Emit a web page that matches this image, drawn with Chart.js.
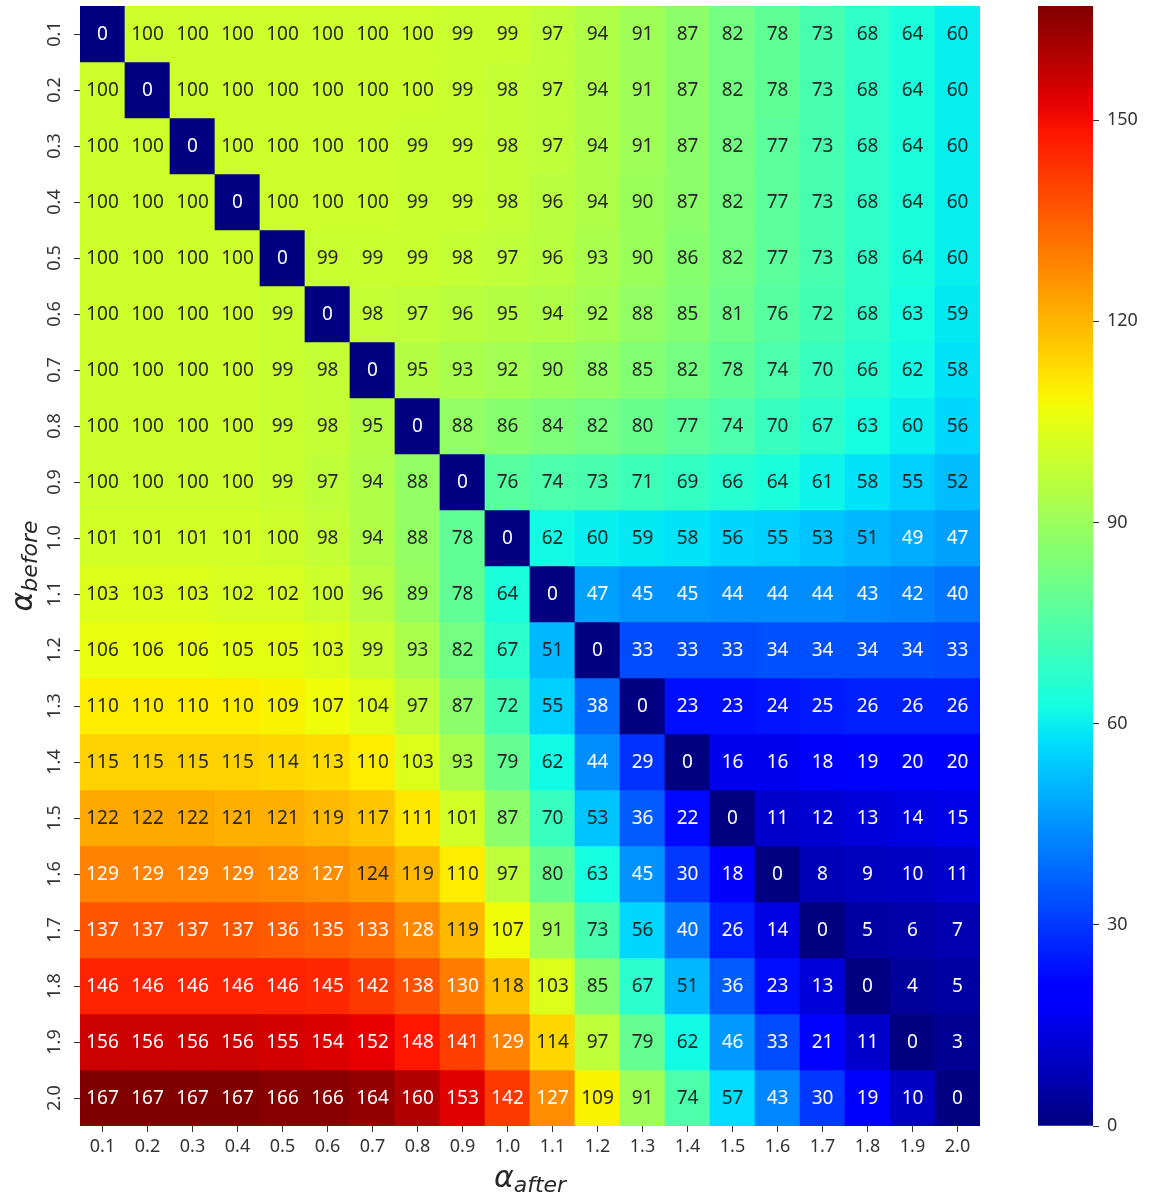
<!DOCTYPE html>
<html>
<head>
<meta charset="utf-8">
<script src="https://cdn.jsdelivr.net/npm/chart.js@4.4.1/dist/chart.umd.min.js"></script>
<style>
  body{margin:0;background:#fff;}
  #wrap{position:relative;width:1155px;height:1200px;}
  #heat{position:absolute;left:0;top:0;}
  #cbarBox{position:absolute;left:1000px;top:0;width:155px;height:1200px;}
</style>
</head>
<body>
<div id="wrap">
  <div style="position:absolute;left:0;top:0;width:1155px;height:1200px;"><canvas id="heat"></canvas></div>
  <div id="cbarBox"><canvas id="cbar"></canvas></div>
</div>
<script>
// DATA
const afterLabels = ['0.1','0.2','0.3','0.4','0.5','0.6','0.7','0.8','0.9','1.0','1.1','1.2','1.3','1.4','1.5','1.6','1.7','1.8','1.9','2.0'];
const beforeLabels = ['0.1','0.2','0.3','0.4','0.5','0.6','0.7','0.8','0.9','1.0','1.1','1.2','1.3','1.4','1.5','1.6','1.7','1.8','1.9','2.0'];
const values = [
  [0,100,100,100,100,100,100,100,99,99,97,94,91,87,82,78,73,68,64,60],
  [100,0,100,100,100,100,100,100,99,98,97,94,91,87,82,78,73,68,64,60],
  [100,100,0,100,100,100,100,99,99,98,97,94,91,87,82,77,73,68,64,60],
  [100,100,100,0,100,100,100,99,99,98,96,94,90,87,82,77,73,68,64,60],
  [100,100,100,100,0,99,99,99,98,97,96,93,90,86,82,77,73,68,64,60],
  [100,100,100,100,99,0,98,97,96,95,94,92,88,85,81,76,72,68,63,59],
  [100,100,100,100,99,98,0,95,93,92,90,88,85,82,78,74,70,66,62,58],
  [100,100,100,100,99,98,95,0,88,86,84,82,80,77,74,70,67,63,60,56],
  [100,100,100,100,99,97,94,88,0,76,74,73,71,69,66,64,61,58,55,52],
  [101,101,101,101,100,98,94,88,78,0,62,60,59,58,56,55,53,51,49,47],
  [103,103,103,102,102,100,96,89,78,64,0,47,45,45,44,44,44,43,42,40],
  [106,106,106,105,105,103,99,93,82,67,51,0,33,33,33,34,34,34,34,33],
  [110,110,110,110,109,107,104,97,87,72,55,38,0,23,23,24,25,26,26,26],
  [115,115,115,115,114,113,110,103,93,79,62,44,29,0,16,16,18,19,20,20],
  [122,122,122,121,121,119,117,111,101,87,70,53,36,22,0,11,12,13,14,15],
  [129,129,129,129,128,127,124,119,110,97,80,63,45,30,18,0,8,9,10,11],
  [137,137,137,137,136,135,133,128,119,107,91,73,56,40,26,14,0,5,6,7],
  [146,146,146,146,146,145,142,138,130,118,103,85,67,51,36,23,13,0,4,5],
  [156,156,156,156,155,154,152,148,141,129,114,97,79,62,46,33,21,11,0,3],
  [167,167,167,167,166,166,164,160,153,142,127,109,91,74,57,43,30,19,10,0]
];
const vmin = 0, vmax = 167;
const colorTicks = [0,30,60,90,120,150];

const FONT = '"Noto Sans", "DejaVu Sans", sans-serif';
const TICK_COLOR = '#333';

// jet colormap (matplotlib segment data)
function interp(pts, t){
  for(let i=1;i<pts.length;i++){
    if(t<=pts[i][0]){
      const [x0,y0]=pts[i-1], [x1,y1]=pts[i];
      return y0 + (y1-y0)*(t-x0)/(x1-x0);
    }
  }
  return pts[pts.length-1][1];
}
function jetRGB(t){
  t=Math.max(0,Math.min(1,t));
  return [
    interp([[0,0],[0.35,0],[0.66,1],[0.89,1],[1,0.5]],t),
    interp([[0,0],[0.125,0],[0.375,1],[0.64,1],[0.91,0],[1,0]],t),
    interp([[0,0.5],[0.11,1],[0.34,1],[0.65,0],[1,0]],t)
  ];
}
function rgbStr(c){ return 'rgb('+c.map(v=>Math.round(v*255)).join(',')+')'; }
function cellColor(v){ return rgbStr(jetRGB((v-vmin)/(vmax-vmin))); }
function textColor(v){
  const lin = jetRGB((v-vmin)/(vmax-vmin)).map(c=> c<=0.03928 ? c/12.92 : Math.pow((c+0.055)/1.055,2.4));
  const lum = 0.2126*lin[0]+0.7152*lin[1]+0.0722*lin[2];
  return lum > 0.408 ? '#262626' : '#ffffff';
}

// HEATMAP
const heatLabels = {
  id:'heatLabels',
  afterDatasetsDraw(chart){
    const ctx=chart.ctx;
    ctx.save();
    ctx.font='19px '+FONT;
    ctx.textAlign='center';
    ctx.textBaseline='middle';
    chart.data.datasets.forEach((ds,r)=>{
      chart.getDatasetMeta(r).data.forEach((el,c)=>{
        const v=values[r][c];
        ctx.fillStyle=textColor(v);
        ctx.fillText(String(v), el.x, (el.y+el.base)/2+1);
      });
    });
    ctx.restore();
  },
  afterDraw(chart){
    const ctx=chart.ctx, ys=chart.scales.y, area=chart.chartArea;
    ctx.save();
    // rotated row labels
    ctx.font='18px '+FONT;
    ctx.fillStyle=TICK_COLOR;
    ctx.textAlign='center';
    ctx.textBaseline='middle';
    beforeLabels.forEach((lab,i)=>{
      ctx.save();
      ctx.translate(55, ys.getPixelForValue(i));
      ctx.rotate(-Math.PI/2);
      ctx.fillText(lab,0,0);
      ctx.restore();
    });
    // x title  alpha_after
    ctx.fillStyle='#262626';
    ctx.textAlign='left';
    ctx.textBaseline='alphabetic';
    const cx=(area.left+area.right)/2;
    ctx.font='italic 30px "DejaVu Sans", sans-serif';
    const wa=ctx.measureText('α').width;
    ctx.font='italic 22px "DejaVu Sans", sans-serif';
    const wb=ctx.measureText('after').width;
    let x0=cx-(wa+wb)/2;
    ctx.font='italic 30px "DejaVu Sans", sans-serif';
    ctx.fillText('α',x0,1187);
    ctx.font='italic 22px "DejaVu Sans", sans-serif';
    ctx.fillText('after',x0+wa,1192);
    // y title  alpha_before
    const cy=(area.top+area.bottom)/2;
    ctx.save();
    ctx.translate(0,cy);
    ctx.rotate(-Math.PI/2);
    ctx.font='italic 30px "DejaVu Sans", sans-serif';
    const wa2=ctx.measureText('α').width;
    ctx.font='italic 22px "DejaVu Sans", sans-serif';
    const wb2=ctx.measureText('before').width;
    const s=-(wa2+wb2)/2;
    ctx.font='italic 30px "DejaVu Sans", sans-serif';
    ctx.fillText('α',s,32);
    ctx.font='italic 22px "DejaVu Sans", sans-serif';
    ctx.fillText('before',s+wa2,37);
    ctx.restore();
    ctx.restore();
  }
};

const heatChart = new Chart(document.getElementById('heat'),{
  type:'bar',
  data:{
    labels:afterLabels,
    datasets:values.map((row,r)=>({
      label:beforeLabels[r],
      data:row.map(()=>[r-0.5,r+0.5]),
      backgroundColor:row.map(cellColor),
      borderWidth:0,
      barPercentage:1,
      categoryPercentage:1,
      grouped:false
    }))
  },
  options:{
    responsive:true,
    maintainAspectRatio:false,
    animation:false,
    layout:{padding:{left:0,right:175,top:6,bottom:0}},
    plugins:{legend:{display:false},tooltip:{enabled:false}},
    scales:{
      x:{
        offset:true,
        grid:{display:true,drawOnChartArea:false,offset:false,tickLength:6,color:'#333'},
        border:{display:false},
        ticks:{color:TICK_COLOR,font:{size:18,family:FONT},padding:4,maxRotation:0,minRotation:0},
        afterFit(s){ s.height=74; s.paddingLeft=0; s.paddingRight=0; }
      },
      y:{
        type:'linear',
        reverse:true,
        min:-0.5,
        max:19.5,
        afterBuildTicks(s){ s.ticks=beforeLabels.map((_,i)=>({value:i})); },
        grid:{display:true,drawOnChartArea:false,tickLength:6,color:'#333'},
        border:{display:false},
        ticks:{color:'rgba(0,0,0,0)',callback:(v)=>beforeLabels[v]},
        afterFit(s){ s.width=80; s.paddingTop=0; s.paddingBottom=0; }
      }
    }
  },
  plugins:[heatLabels]
});

// COLORBAR
function jetGradient(ctx,area){
  const g=ctx.createLinearGradient(0,area.bottom,0,area.top);
  for(let i=0;i<=64;i++){ g.addColorStop(i/64, rgbStr(jetRGB(i/64))); }
  return g;
}
const cbarChart = new Chart(document.getElementById('cbar'),{
  type:'bar',
  data:{
    labels:[''],
    datasets:[{
      data:[[vmin,vmax]],
      backgroundColor:(c)=>{
        const a=c.chart.chartArea;
        if(!a) return 'rgb(0,0,128)';
        return jetGradient(c.chart.ctx,a);
      },
      borderWidth:0,
      barPercentage:1,
      categoryPercentage:1
    }]
  },
  options:{
    responsive:true,
    maintainAspectRatio:false,
    animation:false,
    layout:{padding:{left:38,right:0,top:6,bottom:74}},
    plugins:{legend:{display:false},tooltip:{enabled:false}},
    scales:{
      x:{display:false},
      y:{
        position:'right',
        min:vmin,
        max:vmax,
        afterBuildTicks(s){ s.ticks=colorTicks.map(v=>({value:v})); },
        grid:{drawOnChartArea:false,tickLength:6,color:'#333'},
        border:{display:false},
        ticks:{color:TICK_COLOR,font:{size:18,family:FONT},padding:8},
        afterFit(s){ s.width=62; s.paddingTop=0; s.paddingBottom=0; }
      }
    }
  }
});
</script>
</body>
</html>
